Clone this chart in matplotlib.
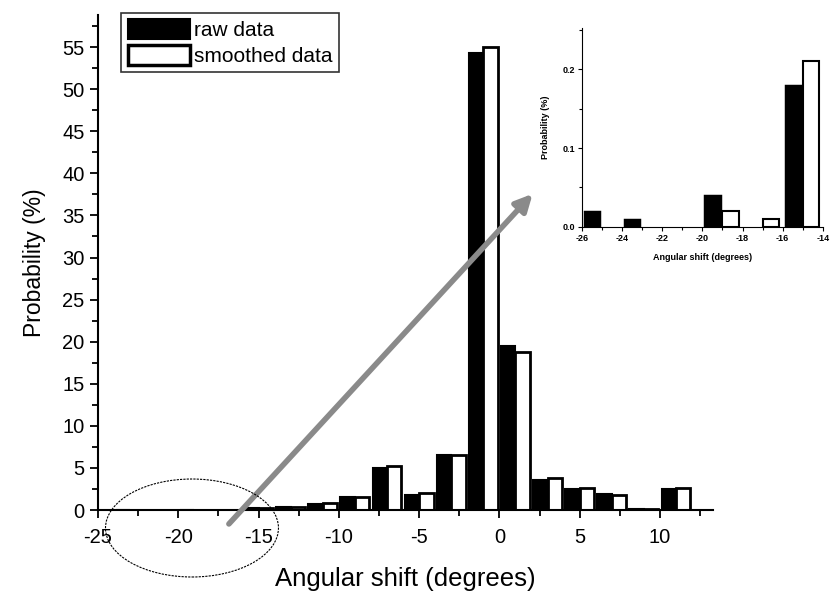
import matplotlib
matplotlib.use('Agg')
import matplotlib.pyplot as plt
from matplotlib.patches import Ellipse
from matplotlib.ticker import MultipleLocator

plt.rcParams['font.family'] = ['Liberation Sans', 'DejaVu Sans']
plt.rcParams['axes.unicode_minus'] = False

# bin centres (degrees) and probabilities (%)
centers = [-25, -23, -21, -19, -17, -15, -13, -11, -9, -7, -5, -3, -1, 1, 3, 5, 7, 9, 11]
raw = [0.02, 0.01, 0, 0.04, 0, 0.18, 0.35, 0.7, 1.6, 5.0, 1.75, 6.5, 54.3, 19.5, 3.6, 2.5, 1.85, 0.15, 2.5]
smoothed = [0, 0, 0, 0.02, 0.01, 0.21, 0.4, 0.8, 1.5, 5.2, 2.05, 6.5, 55.0, 18.8, 3.8, 2.65, 1.8, 0.1, 2.65]

bw = 0.9
raw_x = [c - bw for c in centers]
# no outline for empty bins
raw_lw = [1.5 if v > 0 else 0 for v in raw]
sm_lw = [2 if v > 0 else 0 for v in smoothed]

fig = plt.figure(figsize=(8.3, 5.92), dpi=100)

# main plot
ax = fig.add_axes([0.118, 0.1385, 0.741, 0.836])
ax.bar(raw_x, raw, width=bw, align='edge', color='black', edgecolor='black', lw=raw_lw, label='raw data')
ax.bar(centers, smoothed, width=bw, align='edge', color='white', edgecolor='black', lw=sm_lw, label='smoothed data')
ax.set_xlim(-25, 13.3)
ax.set_ylim(0, 58.8)
ax.xaxis.set_major_locator(MultipleLocator(5))
ax.xaxis.set_minor_locator(MultipleLocator(2.5))
ax.yaxis.set_major_locator(MultipleLocator(5))
ax.yaxis.set_minor_locator(MultipleLocator(2.5))
for s in ['top', 'right']:
    ax.spines[s].set_visible(False)
for s in ['left', 'bottom']:
    ax.spines[s].set_linewidth(1.5)
ax.tick_params(which='major', length=6, width=1.3, labelsize=14.5, direction='out')
ax.tick_params(axis='x', which='major', pad=7)
ax.tick_params(which='minor', length=4, width=1.3, direction='out')
ax.set_xlabel('Angular shift (degrees)', fontsize=18.5, labelpad=14)
ax.set_ylabel('Probability (%)', fontsize=16.5, labelpad=12)
leg = ax.legend(loc='upper left', bbox_to_anchor=(0.038, 1.005), fontsize=15, frameon=True,
                fancybox=False, edgecolor='black', handlelength=3.0, handleheight=1.1,
                handletextpad=0.2, borderpad=0.3, labelspacing=0.25, borderaxespad=0)
leg.get_frame().set_linewidth(1.2)
leg.legend_handles[1].set_linewidth(2.5)

# inset
ins = fig.add_axes([0.701, 0.6166, 0.2904, 0.3361])
ins.bar(raw_x, raw, width=bw * 0.9, align='edge', color='black', edgecolor='black',
        lw=[w * 0.7 for w in raw_lw])
ins.bar(centers, smoothed, width=bw * 0.9, align='edge', color='white', edgecolor='black',
        lw=[w * 0.75 for w in sm_lw])
ins.set_xlim(-26, -14)
ins.set_ylim(0, 0.252)
ins.xaxis.set_major_locator(MultipleLocator(2))
ins.xaxis.set_minor_locator(MultipleLocator(1))
ins.yaxis.set_minor_locator(MultipleLocator(0.05))
ins.set_yticks([0, 0.1, 0.2])
ins.set_yticklabels(['0.0', '0.1', '0.2'])
for s in ['top', 'right']:
    ins.spines[s].set_visible(False)
ins.tick_params(which='major', length=3, width=0.8, labelsize=6.5, direction='out', pad=2)
ins.tick_params(which='minor', length=2, width=0.8, direction='out')
for lab in ins.get_xticklabels() + ins.get_yticklabels():
    lab.set_fontweight('bold')
ins.set_xlabel('Angular shift (degrees)', fontsize=6.5, fontweight='bold', labelpad=7)
ins.set_ylabel('Probability (%)', fontsize=6.5, fontweight='bold', labelpad=9)

# ellipse around the small bars and arrow to the inset
fig.add_artist(Ellipse((0.2313, 0.1081), 0.2084, 0.1655, transform=fig.transFigure,
                       fill=False, edgecolor='black', lw=0.8, linestyle=(0, (2, 1))))
ax.annotate('', xy=(0.644, 0.676), xytext=(0.2735, 0.1115),
            xycoords='figure fraction', textcoords='figure fraction',
            arrowprops=dict(arrowstyle='-|>', color='#8a8a8a', lw=4, mutation_scale=25))

fig.savefig('out.png', dpi=100)
